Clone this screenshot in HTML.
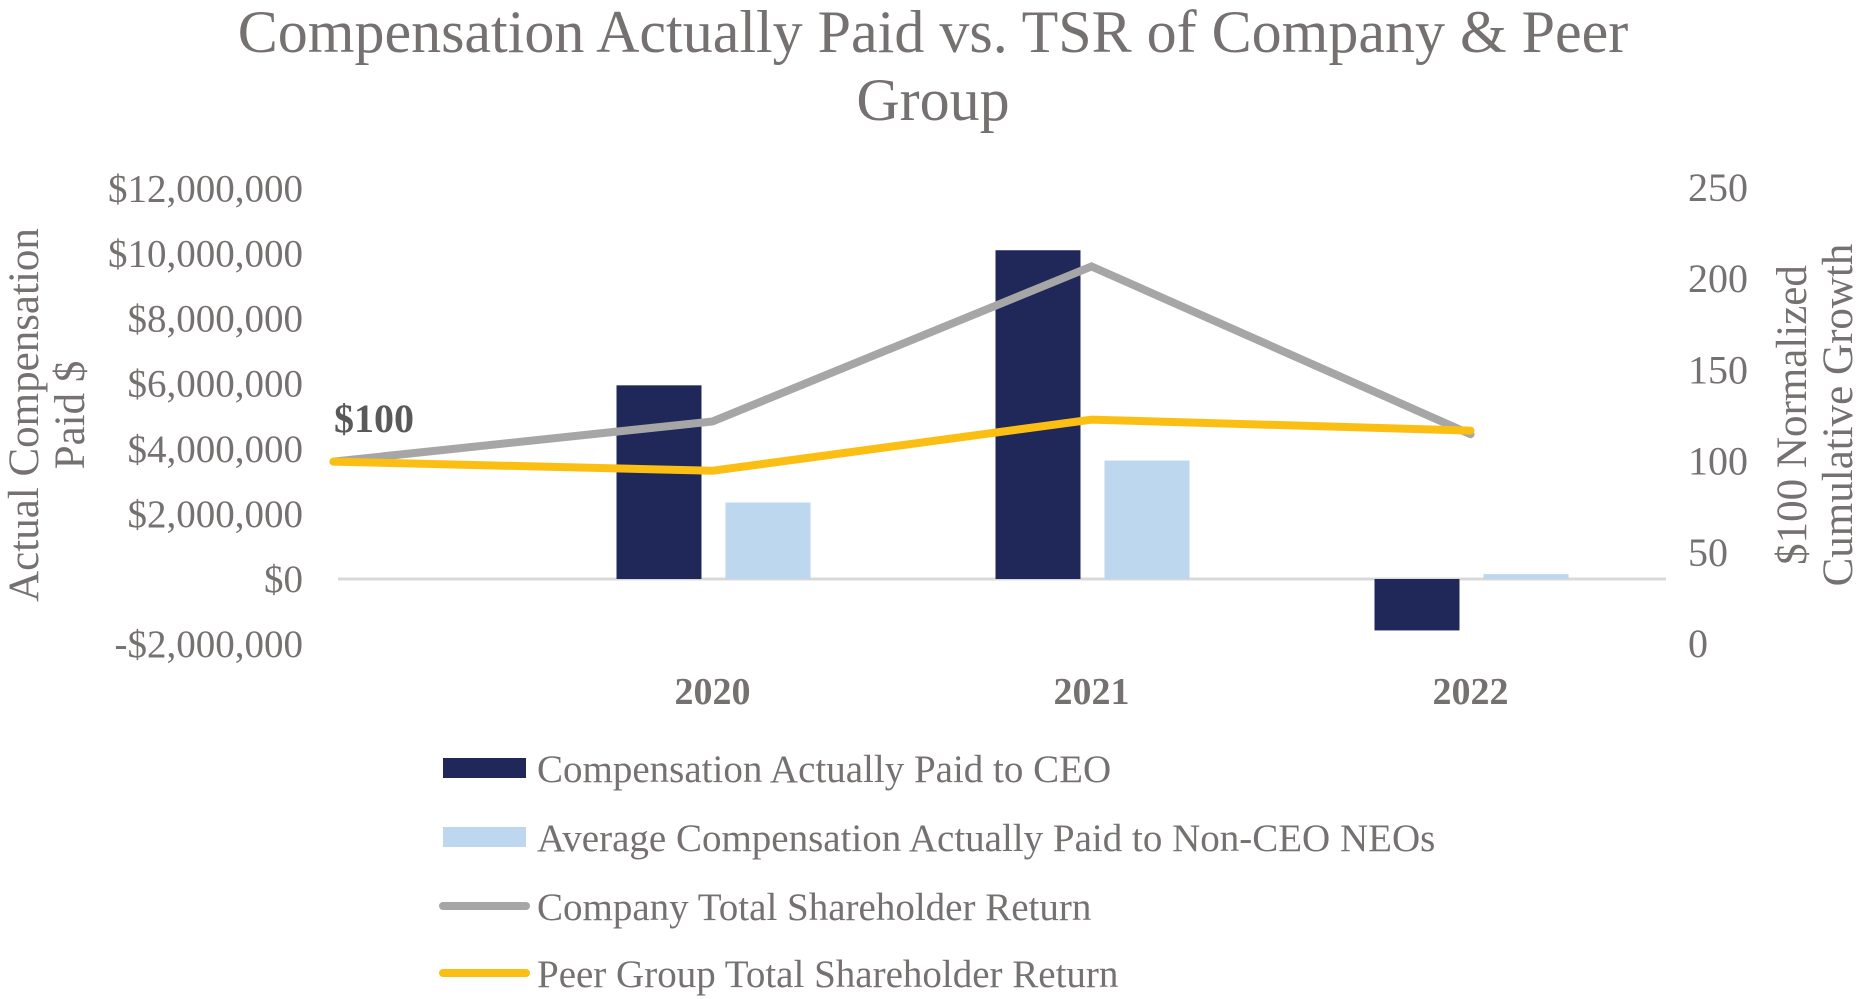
<!DOCTYPE html>
<html><head><meta charset="utf-8"><style>
body{margin:0;background:#fff}
svg{display:block;font-family:"Liberation Serif",serif}
</style></head><body>
<svg id="c" width="1866" height="999" viewBox="0 0 1866 999">
<text x="933" y="52" font-size="60" fill="#767171" text-anchor="middle">Compensation Actually Paid vs. TSR of Company &amp; Peer</text>
<text x="933" y="120" font-size="60" fill="#767171" text-anchor="middle">Group</text>
<g id="plot"></g>
<text transform="translate(38,415) rotate(-90)" font-size="43" fill="#767171" text-anchor="middle"><tspan x="0" y="0">Actual Compensation</tspan><tspan x="0" y="46">Paid $</tspan></text>
<text transform="translate(1806,415) rotate(-90)" font-size="43" fill="#767171" text-anchor="middle"><tspan x="0" y="0">$100 Normalized</tspan><tspan x="0" y="46">Cumulative Growth</tspan></text>
<g>
<rect x="443" y="758" width="83" height="20" fill="#1f2859"/>
<text x="537" y="782" font-size="39" fill="#767171">Compensation Actually Paid to CEO</text>
<rect x="443" y="827" width="83" height="20" fill="#bdd7ee"/>
<text x="537" y="851" font-size="39" fill="#767171">Average Compensation Actually Paid to Non-CEO NEOs</text>
<line x1="443" y1="906" x2="526" y2="906" stroke="#a6a6a6" stroke-width="8" stroke-linecap="round"/>
<text x="537" y="920" font-size="39" fill="#767171">Company Total Shareholder Return</text>
<line x1="443" y1="973" x2="526" y2="973" stroke="#fbbf14" stroke-width="8" stroke-linecap="round"/>
<text x="537" y="987" font-size="39" fill="#767171">Peer Group Total Shareholder Return</text>
</g>
</svg>
<script>
const years=["2020","2021","2022"];
const ceoPay=[5950000,10100000,-1580000];
const neoPay=[2350000,3640000,150000];
const companyTSR=[100,122,207,115];
const peerTSR=[100,95,123,117];
const leftTicks=[-2000000,0,2000000,4000000,6000000,8000000,10000000,12000000];
const rightTicks=[0,50,100,150,200,250];

const NS="http://www.w3.org/2000/svg";
const g=document.getElementById('plot');
function yL(v){return 579-v/2000000*65.1;}
function yR(v){return 644-v/250*456;}
function xP(i){return 333.5+i*379;}
function mk(t,a){const e=document.createElementNS(NS,t);for(const k in a)e.setAttribute(k,a[k]);g.appendChild(e);return e;}
function fmt(v){const s=Math.abs(v).toLocaleString('en-US');return (v<0?'-$':'$')+s;}
leftTicks.forEach(v=>{const t=mk('text',{x:303,y:yL(v)+13,'font-size':39,fill:'#767171','text-anchor':'end'});t.textContent=fmt(v);

});
rightTicks.forEach(v=>{const t=mk('text',{x:1688,y:yR(v)+13,'font-size':40,fill:'#767171'});t.textContent=v;

});
const zl=mk('line',{x1:338,x2:1666,y1:yL(0),y2:yL(0),stroke:'#d9d9d9','stroke-width':3});


years.forEach((y,i)=>{const cx=xP(i+1);
 const v=ceoPay[i];const r=mk('rect',{x:cx-96,y:Math.min(yL(v),yL(0)),width:85,height:Math.abs(yL(v)-yL(0)),fill:'#1f2859'});
 
 
 const w=neoPay[i];const r2=mk('rect',{x:cx+13,y:Math.min(yL(w),yL(0)),width:85,height:Math.abs(yL(w)-yL(0)),fill:'#bdd7ee'});
 
 
 const t=mk('text',{x:cx,y:704,'font-size':38,'font-weight':'bold',fill:'#767171','text-anchor':'middle'});t.textContent=y;
 
 
});
function line(arr,col,name){const p=mk('polyline',{points:arr.map((v,i)=>xP(i)+','+yR(v)).join(' '),fill:'none',stroke:col,'stroke-width':8,'stroke-linejoin':'miter','stroke-linecap':'round'});

}
line(companyTSR,'#a6a6a6','company-tsr-line');
line(peerTSR,'#fbbf14','peer-tsr-line');
const lb=mk('text',{x:334,y:432,'font-size':40,'font-weight':'bold',fill:'#595959'});lb.textContent='$100';


</script>
</body></html>
